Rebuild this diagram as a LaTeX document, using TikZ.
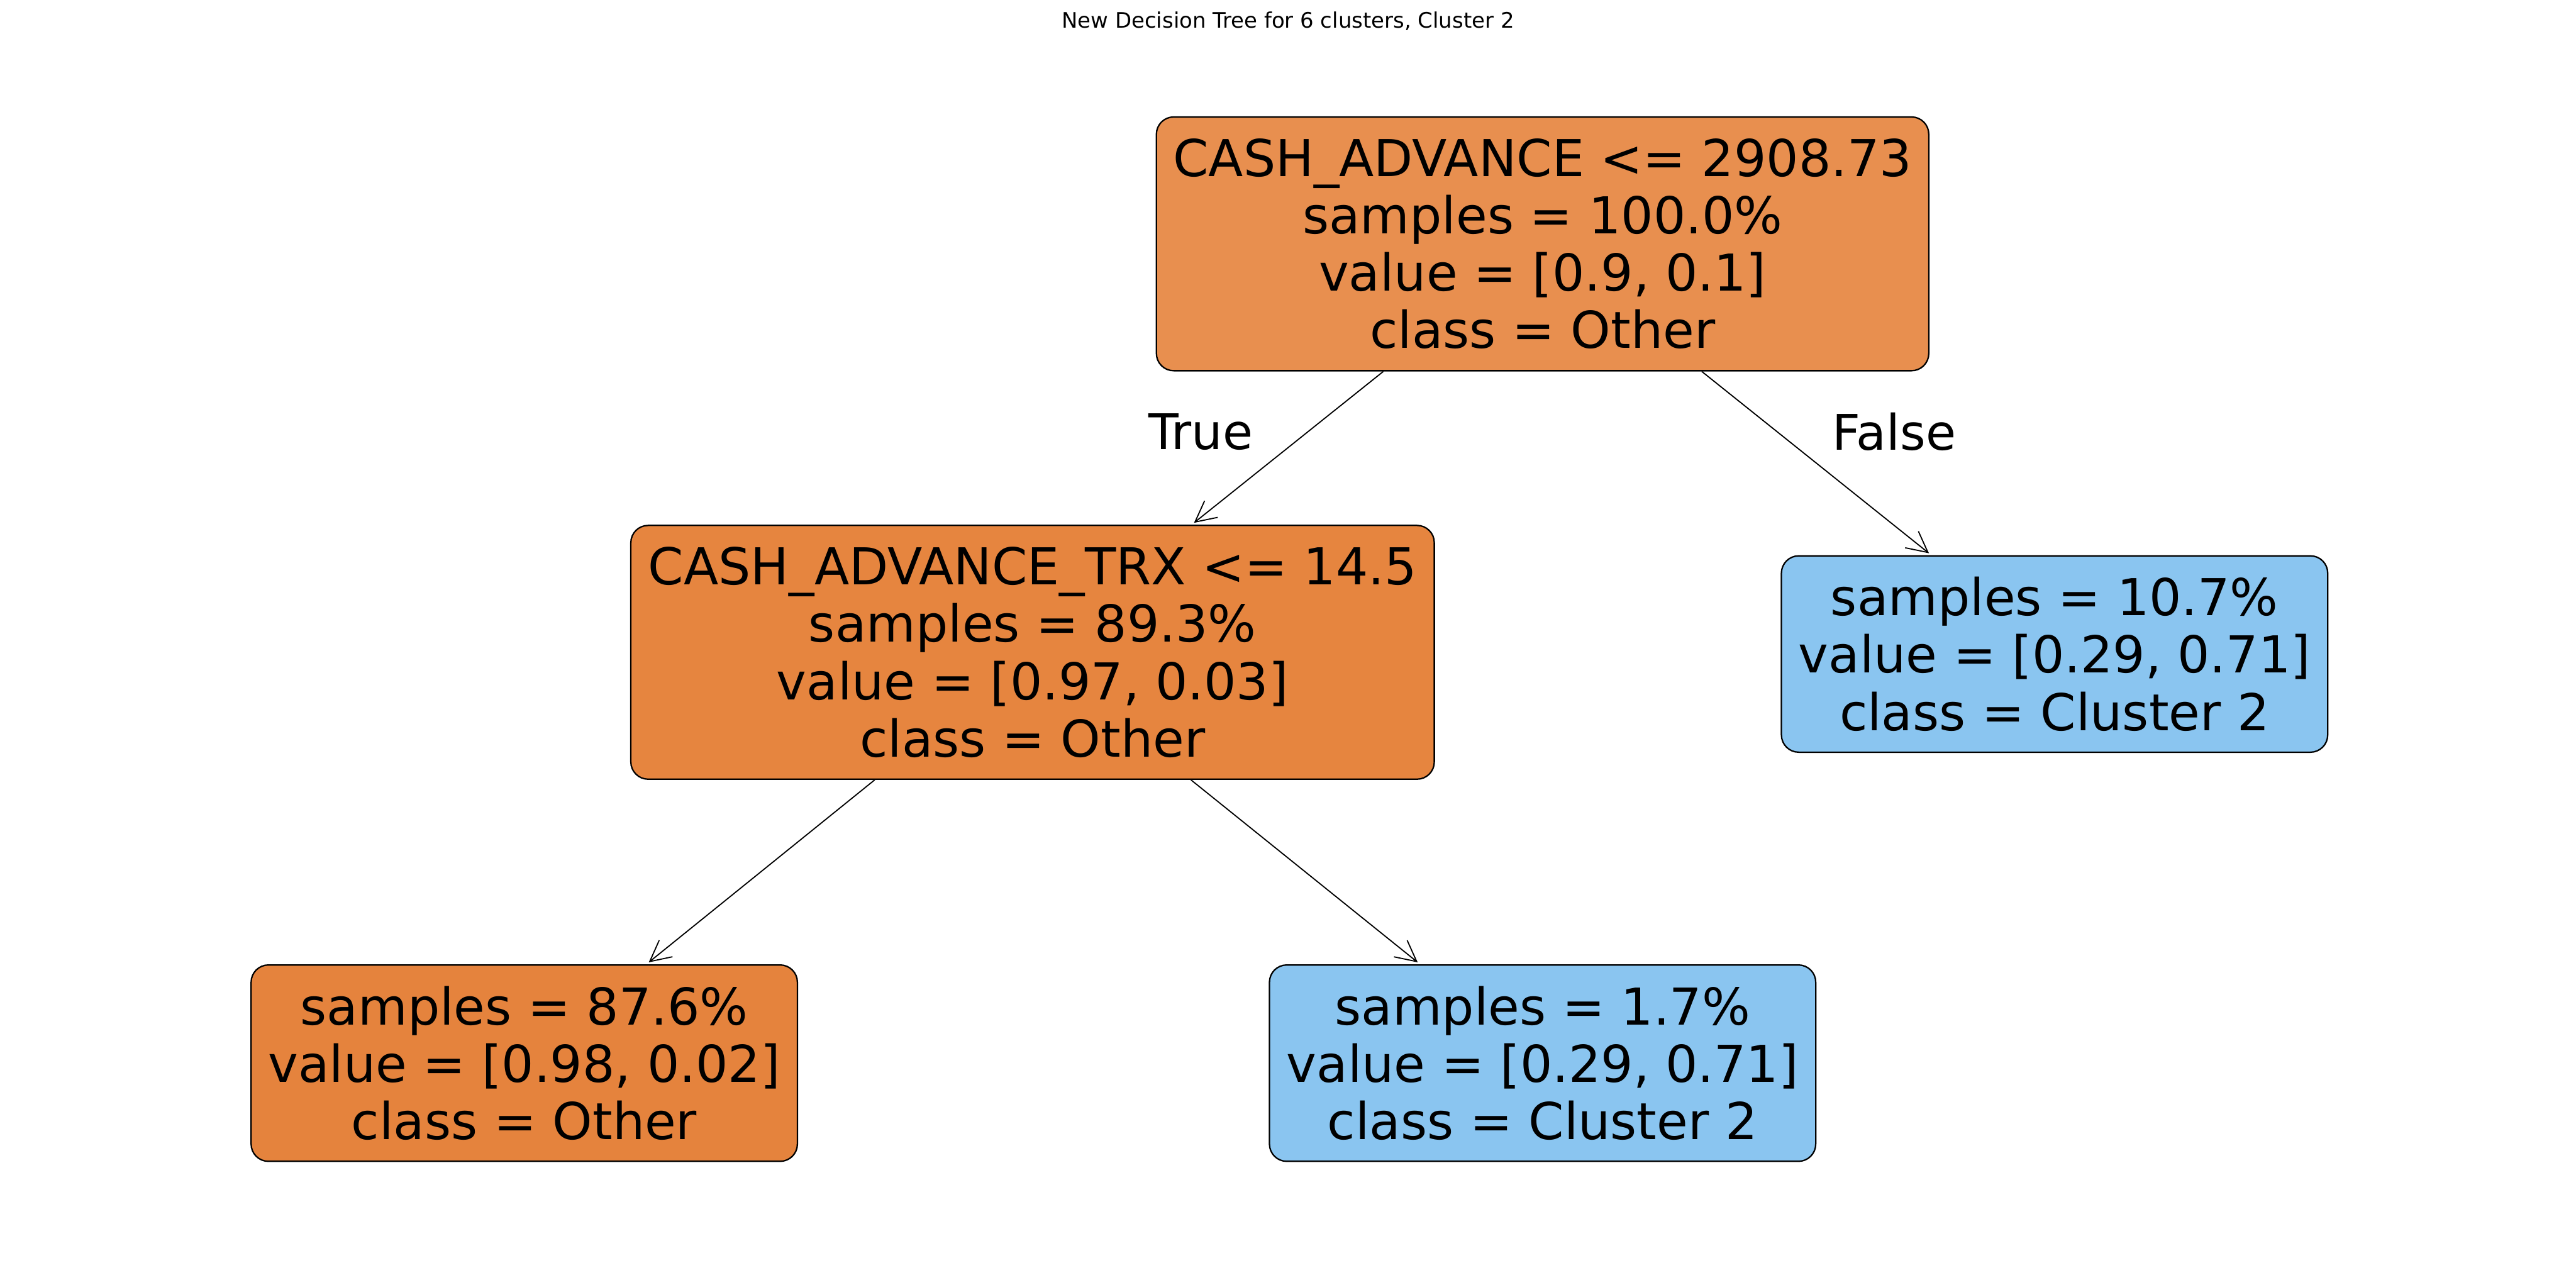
\documentclass[tikz,border=0pt]{standalone}
\usepackage{fontspec}
\setmainfont{DejaVu Sans}
\usetikzlibrary{arrows.meta, positioning}
\definecolor{rootorange}{RGB}{232,143,79}
\definecolor{midorange}{RGB}{230,133,63}
\definecolor{leaforange}{RGB}{229,131,61}
\definecolor{leafblue}{RGB}{138,197,240}
\tikzset{
  treenode/.style={rectangle, draw=black, rounded corners=0.2cm,
    line width=0.47pt, align=center, inner sep=0pt,
    font=\fontsize{16.76}{18.9}\selectfont},
  splitnode/.style={treenode, minimum height=2.94cm},
  leafnode/.style={treenode, minimum width=6.33cm, minimum height=2.275cm},
  edgelbl/.style={font=\fontsize{16.2}{18}\selectfont},
  arrow/.style={-{Straight Barb[length=0.24cm, width=0.245cm]},
    line width=0.38pt, shorten >=0.035cm}
}
\begin{document}
\begin{tikzpicture}
  \useasboundingbox (0,0) rectangle (29.85,-14.83);
  \node[font=\fontsize{7.04}{8.4}\selectfont] (title) at (14.925,-0.2475)
    {New Decision Tree for 6 clusters, Cluster 2};
  % split nodes
  \node[splitnode, fill=rootorange, minimum width=8.95cm] (root) at (17.875,-2.825)
    {CASH\_ADVANCE <= 2908.73\\samples = 100.0\%\\value = [0.9, 0.1]\\class = Other};
  \node[splitnode, fill=midorange, minimum width=9.31cm] (cashtrx) at (11.965,-7.5575)
    {CASH\_ADVANCE\_TRX <= 14.5\\samples = 89.3\%\\value = [0.97, 0.03]\\class = Other};
  % leaves
  \node[leafnode, fill=leafblue] (leafright) at (23.8075,-7.5775)
    {samples = 10.7\%\\value = [0.29, 0.71]\\class = Cluster 2};
  \node[leafnode, fill=leaforange] (leafleft) at (6.075,-12.3175)
    {samples = 87.6\%\\value = [0.98, 0.02]\\class = Other};
  \node[leafnode, fill=leafblue] (leafmid) at (17.875,-12.3175)
    {samples = 1.7\%\\value = [0.29, 0.71]\\class = Cluster 2};
  % connectors
  \draw[arrow] (root) -- (cashtrx);
  \draw[arrow] (root) -- (leafright);
  \draw[arrow] (cashtrx) -- (leafleft);
  \draw[arrow] (cashtrx) -- (leafmid);
  \node[edgelbl] (truelbl) at (13.915,-5.005) {True};
  \node[edgelbl] (falselbl) at (21.95,-5.005) {False};
\end{tikzpicture}
\end{document}
